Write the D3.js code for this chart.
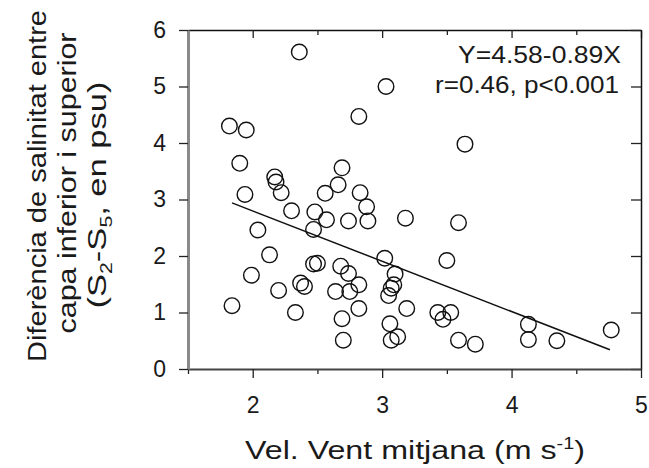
<!DOCTYPE html>
<html>
<head>
<meta charset="utf-8">
<script src="https://cdn.jsdelivr.net/npm/d3@7"></script>
<style>
  body { margin: 0; background: #fff; }
  text { font-family: "Liberation Sans", Arial, sans-serif; fill: #1a1a1a; }
</style>
</head>
<body>
<svg id="chart"></svg>
<script>
// Wind speed (m/s) vs salinity difference S2-S5 (psu)
const windSpeed = [2.36, 3.03, 1.82, 1.95, 2.82, 3.64, 1.90, 2.17, 2.18, 2.22,
                   1.94, 2.69, 2.66, 2.56, 2.83, 2.30, 2.48, 2.88, 2.57, 2.74,
                   2.89, 2.47, 2.04, 3.18, 3.59, 2.13, 3.02, 3.50, 2.47, 2.50,
                   2.68, 2.74, 3.10, 1.99, 2.37, 2.40, 2.82, 3.09, 3.07, 2.20,
                   2.64, 2.75, 3.05, 1.84, 2.82, 3.19, 2.33, 3.43, 3.53, 2.69,
                   3.47, 3.06, 4.13, 3.12, 2.70, 3.07, 3.59, 3.72, 4.13, 4.35, 4.77];
const salDiff   = [5.61, 5.00, 4.30, 4.23, 4.47, 3.98, 3.64, 3.40, 3.31, 3.12,
                   3.09, 3.56, 3.26, 3.11, 3.12, 2.80, 2.78, 2.87, 2.64, 2.62,
                   2.62, 2.47, 2.46, 2.67, 2.59, 2.02, 1.96, 1.92, 1.86, 1.87,
                   1.82, 1.69, 1.68, 1.66, 1.52, 1.46, 1.49, 1.49, 1.43, 1.39,
                   1.37, 1.37, 1.30, 1.12, 1.07, 1.07, 1.00, 1.00, 1.00, 0.89,
                   0.88, 0.80, 0.79, 0.57, 0.51, 0.51, 0.51, 0.44, 0.52, 0.50, 0.69];

// fitted line end points, Y = 4.58 - 0.89X
const fitX = [1.84, 4.76];
const fitY = [2.94, 0.34];

const xMajor = [2, 3, 4, 5];
const xMinor = [1.5, 2.5, 3.5, 4.5];
const yTicks = [0, 1, 2, 3, 4, 5, 6];

const width = 649, height = 468;
const plotL = 188, plotR = 641, plotT = 30, plotB = 369;

const x = d3.scaleLinear().domain([1.5, 5]).range([plotL, plotR]);
const y = d3.scaleLinear().domain([0, 6]).range([plotB, plotT]);

const svg = d3.select('#chart').attr('width', width).attr('height', height);

// top and right frame (ticks inward)
svg.append('g').attr('transform', `translate(0,${plotT})`)
    .call(d3.axisBottom(x).tickValues(xMajor).tickSize(8).tickSizeOuter(0).tickFormat(''))
    .call(g => g.select('.domain').attr('stroke', '#111').attr('stroke-width', 1.5));
svg.append('g').attr('transform', `translate(0,${plotT})`)
    .call(d3.axisBottom(x).tickValues(xMinor).tickSize(5).tickSizeOuter(0).tickFormat(''))
    .call(g => g.select('.domain').remove());
svg.append('g').attr('transform', `translate(${plotR},0)`)
    .call(d3.axisLeft(y).tickValues(yTicks).tickSize(10).tickSizeOuter(0).tickFormat(''))
    .call(g => g.select('.domain').attr('stroke', '#111').attr('stroke-width', 1.5));

// bottom axis
svg.append('g').attr('transform', `translate(0,${plotB})`)
    .call(d3.axisBottom(x).tickValues(xMinor).tickSize(5).tickSizeOuter(0).tickFormat(''))
    .call(g => g.select('.domain').remove());
svg.append('g').attr('transform', `translate(0,${plotB})`)
    .call(d3.axisBottom(x).tickValues(xMajor).tickSize(9).tickSizeOuter(0).tickPadding(19).tickFormat(d3.format('d')))
    .call(g => g.select('.domain').attr('stroke', '#444').attr('stroke-width', 2))
    .call(g => g.selectAll('text').attr('font-size', 23).attr('fill', '#1a1a1a'));

// left axis
svg.append('g').attr('transform', `translate(${plotL},0)`)
    .call(d3.axisLeft(y).tickValues(yTicks).tickSize(9).tickSizeOuter(0).tickPadding(13).tickFormat(d3.format('d')))
    .call(g => g.select('.domain').attr('stroke', '#8a8a8a').attr('stroke-width', 3))
    .call(g => g.selectAll('text').attr('font-size', 23).attr('fill', '#1a1a1a'));

svg.selectAll('.tick line').attr('stroke', '#222').attr('stroke-width', 1.3);

// regression line
svg.append('line')
    .attr('x1', x(fitX[0])).attr('y1', y(fitY[0]))
    .attr('x2', x(fitX[1])).attr('y2', y(fitY[1]))
    .attr('stroke', '#111').attr('stroke-width', 1.5);

// points
svg.selectAll('.pt')
    .data(windSpeed.map((v, i) => [v, salDiff[i]]))
    .enter().append('circle')
    .attr('class', 'pt')
    .attr('cx', d => x(d[0]))
    .attr('cy', d => y(d[1]))
    .attr('r', 7.8)
    .attr('fill', 'none')
    .attr('stroke', '#111')
    .attr('stroke-width', 1.4);

// equation
svg.append('text').attr('x', 621).attr('y', 63).attr('text-anchor', 'end')
    .attr('font-size', 24).attr('textLength', 163).attr('lengthAdjust', 'spacingAndGlyphs')
    .text('Y=4.58-0.89X');
svg.append('text').attr('x', 619).attr('y', 93).attr('text-anchor', 'end')
    .attr('font-size', 24).attr('textLength', 184).attr('lengthAdjust', 'spacingAndGlyphs')
    .text('r=0.46, p<0.001');

// x title
const xt = svg.append('text').attr('x', 415).attr('y', 459).attr('text-anchor', 'middle')
    .attr('font-size', 26).attr('textLength', 340).attr('lengthAdjust', 'spacingAndGlyphs');
xt.append('tspan').text('Vel. Vent mitjana (m s');
xt.append('tspan').attr('font-size', 16).attr('dy', -10).text('-1');
xt.append('tspan').attr('dy', 10).text(')');

// y title, three lines
svg.append('text').attr('transform', 'translate(46,186) rotate(-90)')
    .attr('text-anchor', 'middle').attr('font-size', 26)
    .attr('textLength', 352).attr('lengthAdjust', 'spacingAndGlyphs')
    .text('Diferència de salinitat entre');
svg.append('text').attr('transform', 'translate(76,183) rotate(-90)')
    .attr('text-anchor', 'middle').attr('font-size', 26)
    .attr('textLength', 301).attr('lengthAdjust', 'spacingAndGlyphs')
    .text('capa inferior i superior');
const yl3 = svg.append('text').attr('transform', 'translate(106,195) rotate(-90)')
    .attr('text-anchor', 'middle').attr('font-size', 26)
    .attr('textLength', 227).attr('lengthAdjust', 'spacingAndGlyphs');
yl3.append('tspan').text('(S');
yl3.append('tspan').attr('font-size', 16).attr('dy', 6).text('2');
yl3.append('tspan').attr('dy', -6).text('-S');
yl3.append('tspan').attr('font-size', 16).attr('dy', 6).text('5');
yl3.append('tspan').attr('dy', -6).text(', en psu)');
</script>
</body>
</html>
